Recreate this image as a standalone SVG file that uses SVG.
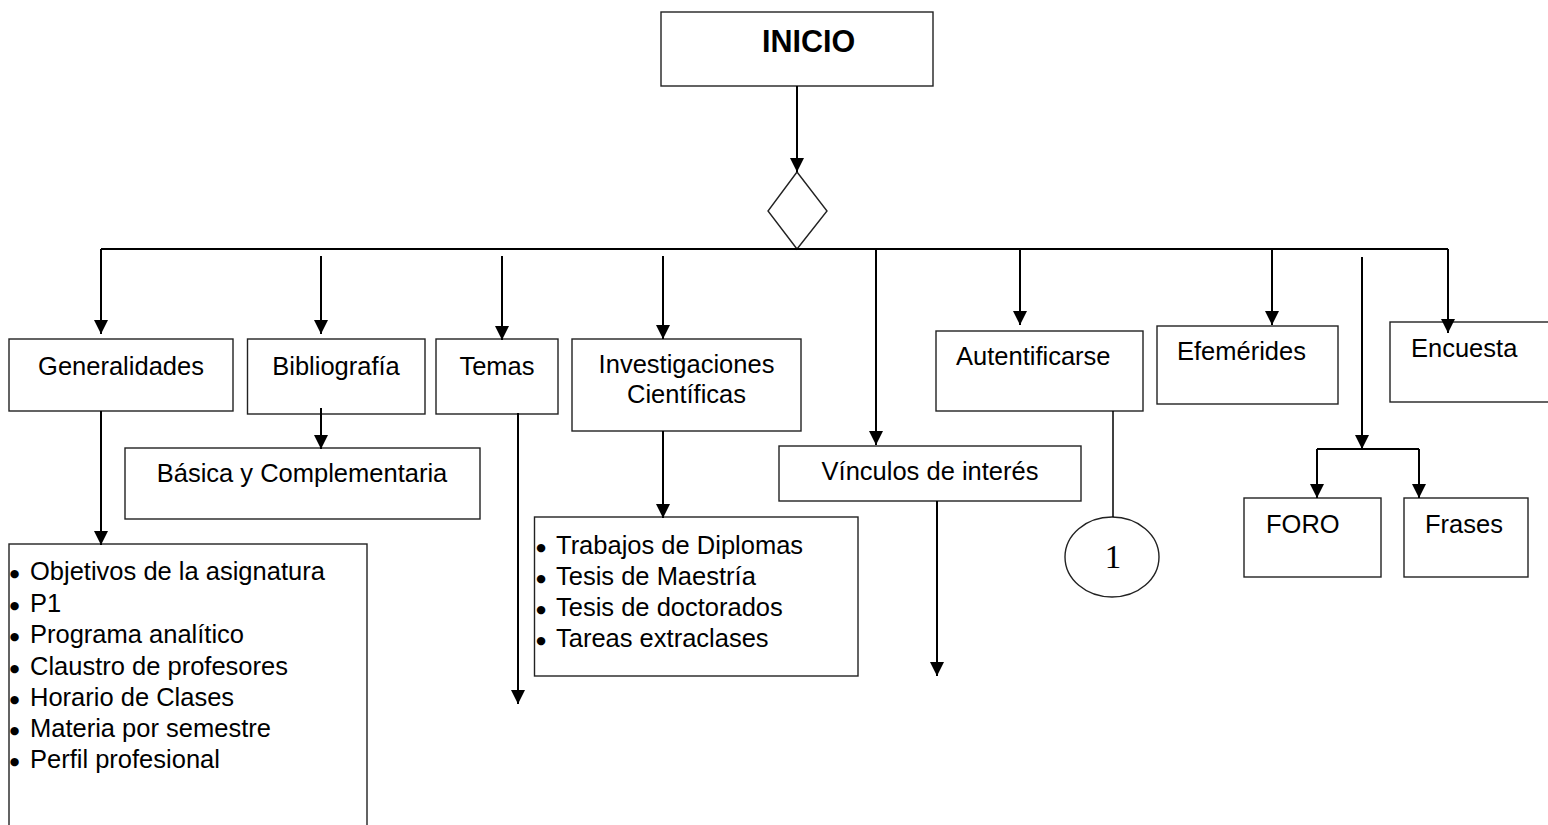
<svg xmlns="http://www.w3.org/2000/svg" width="1548" height="825" viewBox="0 0 1548 825">
<style>
.box{fill:#fff;stroke:#222;stroke-width:1.4}
.ln{fill:none;stroke:#000;stroke-width:2}
.t{font-family:"Liberation Sans",Arial,sans-serif;font-size:25.5px;fill:#000}
.c{text-anchor:middle}
.b{font-weight:bold;font-size:30.5px}
.bu{font-family:"DejaVu Sans",sans-serif;font-size:11px;text-anchor:middle;fill:#000}
.s{font-family:"Liberation Serif","Times New Roman",serif;font-size:33px;text-anchor:middle}
</style>
<defs>
<marker id="ah" markerUnits="userSpaceOnUse" markerWidth="14" markerHeight="14" refX="14" refY="7" orient="auto"><path d="M0,0 L14,7 L0,14 z" fill="#000"/></marker>
</defs>
<rect width="1548" height="825" fill="#fff"/>
<g id="inicio"><rect class="box" x="661" y="12" width="272" height="74"/><text class="t b" x="762" y="52">INICIO</text></g>
<g id="decision"><polygon class="box" points="797,172 827,211 797,249 768,211"/></g>
<g id="generalidades"><rect class="box" x="9" y="339" width="224" height="72"/><text class="t c" x="121" y="375">Generalidades</text></g>
<g id="bibliografia"><rect class="box" x="247.5" y="339" width="177.5" height="75"/><text class="t c" x="336" y="375">Bibliografía</text></g>
<g id="basica"><rect class="box" x="125" y="448" width="355" height="71"/><text class="t c" x="302" y="482">Básica y Complementaria</text></g>
<g id="temas"><rect class="box" x="436" y="339" width="122" height="75"/><text class="t c" x="497" y="375">Temas</text></g>
<g id="investigaciones"><rect class="box" x="572" y="339" width="229" height="92"/><text class="t c" x="686.5" y="373">Investigaciones</text><text class="t c" x="686.5" y="403">Científicas</text></g>
<g id="vinculos"><rect class="box" x="779" y="446" width="302" height="55"/><text class="t c" x="930" y="480">Vínculos de interés</text></g>
<g id="autentificarse"><rect class="box" x="936" y="331" width="207" height="80"/><text class="t" x="956" y="365">Autentificarse</text></g>
<g id="efemerides"><rect class="box" x="1157" y="326" width="181" height="78"/><text class="t" x="1177" y="360">Efemérides</text></g>
<g id="encuesta"><rect class="box" x="1390" y="322" width="170" height="80"/><text class="t" x="1411" y="357">Encuesta</text></g>
<g id="foro"><rect class="box" x="1244" y="498" width="137" height="79"/><text class="t" x="1266" y="533">FORO</text></g>
<g id="frases"><rect class="box" x="1404" y="498" width="124" height="79"/><text class="t" x="1425" y="533">Frases</text></g>
<g id="conector1"><ellipse class="box" cx="1112" cy="557" rx="47" ry="40"/><text class="s" x="1113" y="568">1</text></g>
<g id="lista-generalidades"><rect class="box" x="9" y="544" width="358" height="300"/>
<text class="bu" x="14.5" y="577">●</text><text class="t" x="30" y="580">Objetivos de la asignatura</text>
<text class="bu" x="14.5" y="609">●</text><text class="t" x="30" y="612">P1</text>
<text class="bu" x="14.5" y="640">●</text><text class="t" x="30" y="643">Programa analítico</text>
<text class="bu" x="14.5" y="672">●</text><text class="t" x="30" y="675">Claustro de profesores</text>
<text class="bu" x="14.5" y="703">●</text><text class="t" x="30" y="706">Horario de Clases</text>
<text class="bu" x="14.5" y="734">●</text><text class="t" x="30" y="737">Materia por semestre</text>
<text class="bu" x="14.5" y="765">●</text><text class="t" x="30" y="768">Perfil profesional</text>
</g>
<g id="lista-investigaciones"><rect class="box" x="534.5" y="517" width="323.5" height="159"/>
<text class="bu" x="541" y="551">●</text><text class="t" x="556" y="554">Trabajos de Diplomas</text>
<text class="bu" x="541" y="582">●</text><text class="t" x="556" y="585">Tesis de Maestría</text>
<text class="bu" x="541" y="613">●</text><text class="t" x="556" y="616">Tesis de doctorados</text>
<text class="bu" x="541" y="644">●</text><text class="t" x="556" y="647">Tareas extraclases</text>
</g>
<g id="connectors">
<path class="ln" d="M797,86 V172" marker-end="url(#ah)"/>
<path class="ln" d="M101,249 H1448"/>
<path class="ln" d="M101,249 V334" marker-end="url(#ah)"/>
<path class="ln" d="M321,256 V334" marker-end="url(#ah)"/>
<path class="ln" d="M502,256 V340" marker-end="url(#ah)"/>
<path class="ln" d="M663,256 V339" marker-end="url(#ah)"/>
<path class="ln" d="M876,249 V445" marker-end="url(#ah)"/>
<path class="ln" d="M1020,249 V325" marker-end="url(#ah)"/>
<path class="ln" d="M1272,249 V325" marker-end="url(#ah)"/>
<path class="ln" d="M1448,249 V333" marker-end="url(#ah)"/>
<path class="ln" d="M1362,257 V449" marker-end="url(#ah)"/>
<path class="ln" d="M1317,449 H1419"/>
<path class="ln" d="M1317,449 V498" marker-end="url(#ah)"/>
<path class="ln" d="M1419,449 V498" marker-end="url(#ah)"/>
<path class="ln" d="M101,411 V545" marker-end="url(#ah)"/>
<path class="ln" d="M321,408 V449" marker-end="url(#ah)"/>
<path class="ln" d="M518,413 V704" marker-end="url(#ah)"/>
<path class="ln" d="M663,431 V518" marker-end="url(#ah)"/>
<path class="ln" d="M937,501 V676" marker-end="url(#ah)"/>
<path class="ln" d="M1113,411 V517" style="stroke-width:1.5"/>
</g>
</svg>
